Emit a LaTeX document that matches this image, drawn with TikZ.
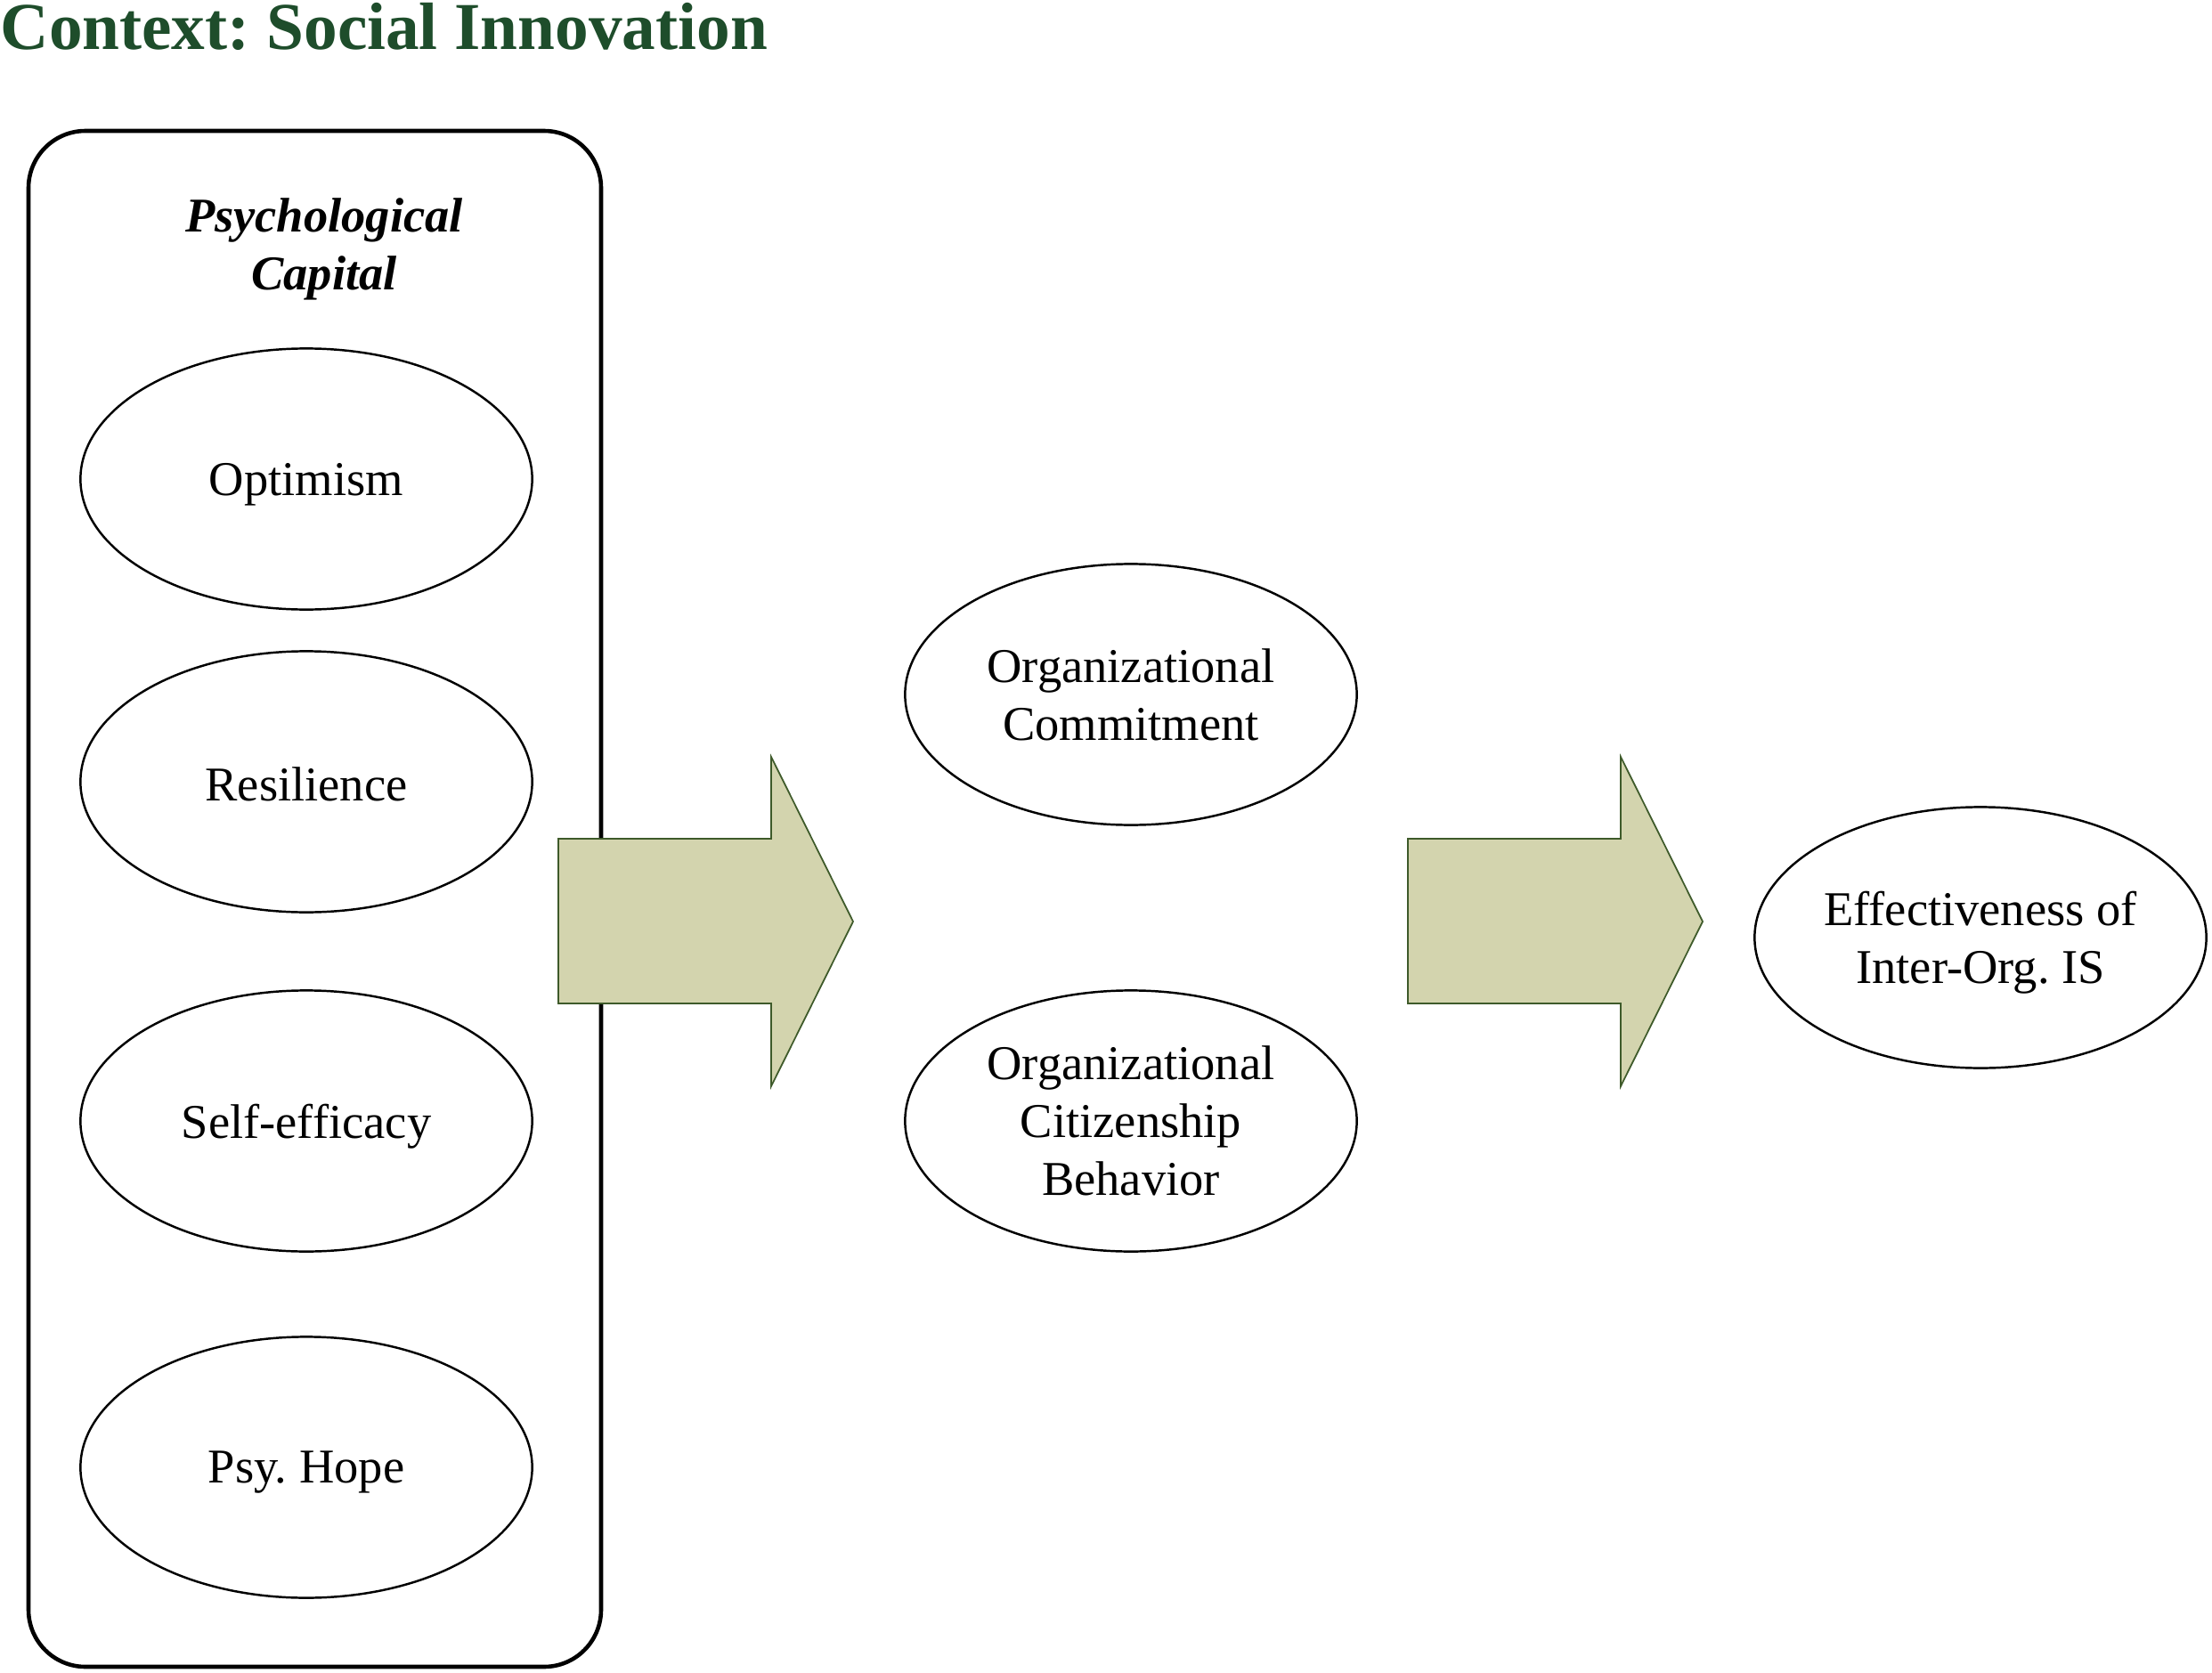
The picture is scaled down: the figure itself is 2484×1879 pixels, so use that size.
\documentclass[tikz,border=0pt]{standalone}
\usepackage{fontspec}
\setmainfont{Liberation Serif}
\frenchspacing
\usetikzlibrary{shapes.geometric}
\definecolor{titlegreen}{HTML}{1E4D2B}
\definecolor{arrowfill}{HTML}{D3D4AE}
\definecolor{arrowline}{HTML}{3E5A2A}
\begin{document}
\begin{tikzpicture}[x=0.01cm,y=-0.01cm,
  ell/.style={ellipse,draw,line width=0.7pt,minimum width=5.07cm,minimum height=2.93cm,inner sep=0pt,align=center,font=\fontsize{15.5}{18.5}\selectfont},
  lbl/.style={align=center,font=\fontsize{15.5}{18.5}\selectfont},
  bigarrow/.style={fill=arrowfill,draw=arrowline,line width=0.5pt},
  capbox/.style={draw,line width=1.3pt,rounded corners=0.64cm}]
\useasboundingbox (0,0) rectangle (2484,1879);
% title
\node[anchor=base west,inner sep=0pt,text=titlegreen,font=\fontsize{21.4}{24}\selectfont\bfseries] (title) at (0,56) {Context: Social Innovation};
% container
\draw[capbox] (32,147) rectangle (675,1872);
\node[align=center,inner sep=0pt,font=\fontsize{15.5}{18.5}\selectfont\bfseries\itshape] (pc) at (364,280) {Psychological\\Capital};
% ellipses
\node[ell] (opt) at (344,538) {};
\node[lbl] (optl) at ([yshift=-0.06cm]opt.center) {Optimism};
\node[ell] (res) at (344,878) {};
\node[lbl] (resl) at ([yshift=-0.03cm]res.center) {Resilience};
\node[ell] (self) at (344,1259) {};
\node[lbl] (selfl) at ([yshift=-0.06cm]self.center) {Self-efficacy};
\node[ell] (hope) at (344,1648) {};
\node[lbl] (hopel) at ([yshift=-0.06cm]hope.center) {Psy. Hope};
\node[ell] (oc) at (1270,780) {Organizational\\Commitment};
\node[ell] (ocb) at (1270,1259) {Organizational\\Citizenship\\Behavior};
\node[ell] (eff) at (2224,1053) {};
\node[lbl] (effl) at ([yshift=-0.06cm]eff.center) {Effectiveness of\\Inter-Org. IS};
% block arrows
\draw[bigarrow] (627,942) -- (866,942) -- (866,850) -- (958,1035) -- (866,1220) -- (866,1127) -- (627,1127) -- cycle;
\draw[bigarrow] (1581,942) -- (1820,942) -- (1820,850) -- (1912,1035) -- (1820,1220) -- (1820,1127) -- (1581,1127) -- cycle;
\end{tikzpicture}
\end{document}
